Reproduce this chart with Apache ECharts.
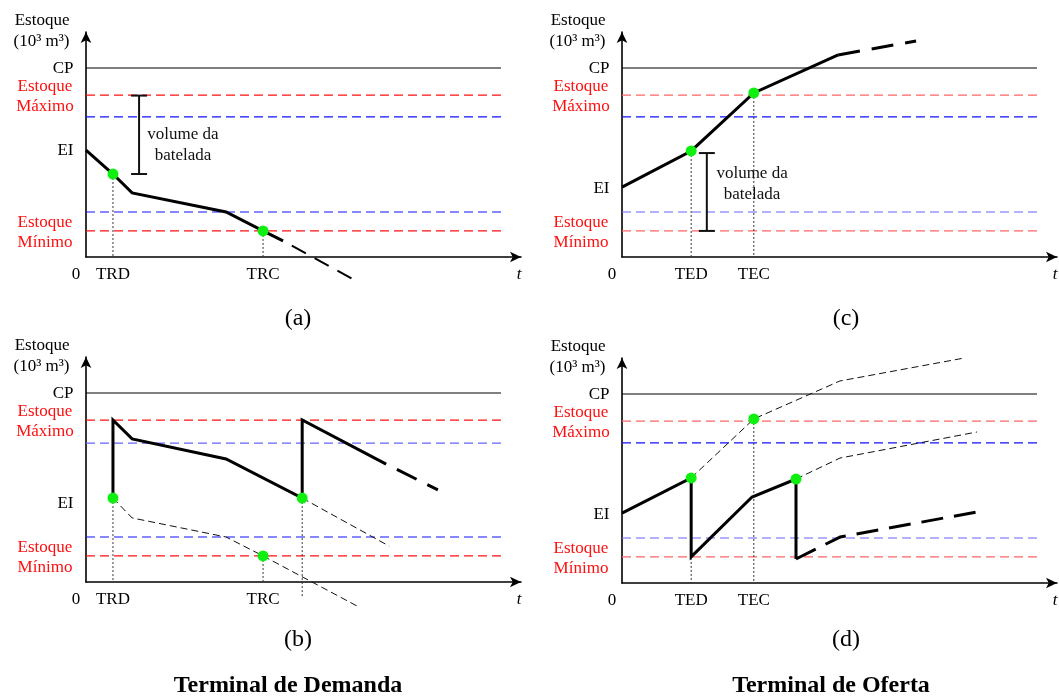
<!DOCTYPE html>
<html><head><meta charset="utf-8">
<script src="https://cdn.jsdelivr.net/npm/echarts@6/dist/echarts.min.js"></script>
<style>html,body{margin:0;padding:0;background:#fff}#c{width:1059px;height:697px}</style>
</head><body><div id="c"></div>
<script>
// ================= DATA =================
const X_MAX = 100;        // time axis extent (schematic units)
const Y_MAX = 119;        // stock axis extent (CP = 100)
const LEVEL_END = 95.4;   // reference lines stop here
// order: CP, Estoque Máximo, upper (blue) limit, lower (blue) limit, Estoque Mínimo
const levelsA = [100, 85.7, 74.1, 23.8, 13.8];
const levelsB = [100, 85.7, 73.5, 23.8, 13.8];
const levelsC = [100, 85.7, 74.1, 23.8, 13.8];
const levelsD = [100, 85.7, 74.1, 23.8, 13.8];
const eiLevels = [56.6, 42.3, 36.8, 37.0];   // a, b, c, d

// (a) Terminal de Demanda
const solidA = [[0,56.6],[6.2,43.9],[10.6,33.9],[32.2,23.8],[40.7,13.8],[45.3,8.5]];
const projA  = [[45.3,8.5],[62.1,-12.7]];
const dotsA  = [[6.2,43.9],[40.7,13.8]];
const dropsA = [[6.2,43.9,0],[40.7,13.8,0]];
const ticksA = [[6.2,'TRD'],[40.7,'TRC']];
const batchA = [[12.2,43.9,85.4]];
const batchTextA = [22.3, 59.5];

// (b) Terminal de Demanda
const solidB = [[6.2,44.4],[6.2,85.7],[10.6,75.7],[32.2,65.1],[49.7,44.4],[49.7,85.7],[69.0,62.4]];
const projB  = [[69.0,62.4],[80.9,48.7]];
const thinB1 = [[6.2,44.4],[10.6,33.9],[32.2,23.8],[40.7,13.8],[62.3,-12.7]];
const thinB2 = [[49.7,44.4],[69.7,19.0]];
const dotsB  = [[6.2,44.4],[49.7,44.4],[40.7,13.8]];
const dropsB = [[6.2,44.4,0],[40.7,13.8,0],[49.7,44.4,-8.5]];
const ticksB = [[6.2,'TRD'],[40.7,'TRC']];

// (c) Terminal de Oferta
const solidC = [[0,37.0],[15.9,56.1],[30.3,86.8],[49.7,106.9]];
const projC  = [[49.7,106.9],[67.6,114.3]];
const dotsC  = [[15.9,56.1],[30.3,86.8]];
const dropsC = [[15.9,56.1,0],[30.3,86.8,0]];
const ticksC = [[15.9,'TED'],[30.3,'TEC']];
const batchC = [[19.5,13.8,55.0]];
const batchTextC = [29.9, 38.4];

// (d) Terminal de Oferta
const solidD = [[0,37.0],[15.9,55.6],[15.9,13.8],[29.9,45.5],[40.0,55.0],[40.0,12.7]];
const projD  = [[40.0,12.7],[50.1,24.3],[81.6,37.6]];
const thinD1 = [[15.9,55.6],[30.3,86.8],[50.1,106.9],[78.6,119.0]];
const thinD2 = [[40.0,55.0],[50.1,66.1],[81.6,79.9]];
const dotsD  = [[15.9,55.6],[30.3,86.8],[40.0,55.0]];
const dropsD = [[15.9,55.6,0],[30.3,86.8,0]];
const ticksD = [[15.9,'TED'],[30.3,'TEC']];

const captions = ['(a)', '(b)', '(c)', '(d)'];
const groupTitles = ['Terminal de Demanda', 'Terminal de Oferta'];

// ================= STYLE / LAYOUT =================
const FONT = 'Liberation Serif';
const RED = '#ff1010', RED_L = '#ff6464', BLUE = '#1010ff', BLUE_L = '#6464ff';
const PX_Y = 1.89, GRID_W = 435, GRID_H = Y_MAX * PX_Y;
const grids = [
  {left: 86,  top: 257 - GRID_H},   // a
  {left: 86,  top: 582 - GRID_H},   // b
  {left: 622, top: 257 - GRID_H},   // c
  {left: 622, top: 583 - GRID_H}    // d
];
const levelColors = [
  ['#000', RED, BLUE, BLUE, RED],
  ['#000', RED, BLUE_L, BLUE, RED],
  ['#000', RED_L, BLUE, BLUE_L, RED_L],
  ['#000', RED_L, BLUE, BLUE_L, RED_L]
];

const panels = [
  {levels: levelsA, ei: eiLevels[0], solid: solidA, proj: projA, projStyle: {width: 2, type: [16, 10], dashOffset: 16}, thin: [], dots: dotsA, drops: dropsA, ticks: ticksA, batch: batchA, batchText: batchTextA},
  {levels: levelsB, ei: eiLevels[1], solid: solidB, proj: projB, projStyle: {width: 3, type: [22, 12], dashOffset: 22}, thin: [thinB1, thinB2], dots: dotsB, drops: dropsB, ticks: ticksB, batch: null, batchText: null},
  {levels: levelsC, ei: eiLevels[2], solid: solidC, proj: projC, projStyle: {width: 3, type: [22, 12], dashOffset: 0}, thin: [], dots: dotsC, drops: dropsC, ticks: ticksC, batch: batchC, batchText: batchTextC},
  {levels: levelsD, ei: eiLevels[3], solid: solidD, proj: projD, projStyle: {width: 3, type: [22, 11], dashOffset: 0}, thin: [thinD1, thinD2], dots: dotsD, drops: dropsD, ticks: ticksD, batch: null, batchText: null}
];

function lineS(gi, data, style, z) {
  return {type: 'line', xAxisIndex: gi, yAxisIndex: gi, data: data, symbol: 'none', silent: true,
    clip: false, animation: false, lineStyle: style, z: z || 2};
}

const series = [];
const xAxes = [], yAxes = [], gridOpts = [];
panels.forEach((p, gi) => {
  gridOpts.push({left: grids[gi].left, top: grids[gi].top, width: GRID_W, height: GRID_H});
  xAxes.push({type: 'value', gridIndex: gi, min: 0, max: X_MAX,
    axisLine: {show: true, onZero: false, symbol: ['none', 'arrow'], symbolSize: [8, 11], lineStyle: {color: '#000', width: 1.6}},
    axisTick: {show: false}, axisLabel: {show: false}, splitLine: {show: false}});
  yAxes.push({type: 'value', gridIndex: gi, min: 0, max: Y_MAX,
    axisLine: {show: true, onZero: false, symbol: ['none', 'arrow'], symbolSize: [8, 11], lineStyle: {color: '#000', width: 1.6}},
    axisTick: {show: false}, axisLabel: {show: false}, splitLine: {show: false}});

  // reference levels
  p.levels.forEach((lv, k) => {
    const st = k === 0 ? {color: '#000', width: 1, type: 'solid'} : {color: levelColors[gi][k], width: 1.2, type: [9, 5]};
    series.push(lineS(gi, [[0, lv], [LEVEL_END, lv]], st, 1));
  });
  // drop lines
  p.drops.forEach(d => series.push(lineS(gi, [[d[0], d[1]], [d[0], d[2]]], {color: '#333', width: 1, type: [2, 2]}, 2)));
  // thin projections
  p.thin.forEach(t => series.push(lineS(gi, t, {color: '#111', width: 1, type: [7, 4]}, 3)));
  // main stock curve
  series.push(lineS(gi, p.solid, {color: '#000', width: 3, type: 'solid', join: 'miter'}, 4));
  series.push(lineS(gi, p.proj, Object.assign({color: '#000'}, p.projStyle), 4));
  // batch bracket
  if (p.batch) {
    series.push({type: 'custom', xAxisIndex: gi, yAxisIndex: gi, data: p.batch, silent: true, animation: false, z: 4,
      renderItem: function (params, api) {
        const a = api.coord([api.value(0), api.value(1)]);
        const b = api.coord([api.value(0), api.value(2)]);
        const st = {stroke: '#111', lineWidth: 2};
        return {type: 'group', children: [
          {type: 'line', shape: {x1: a[0], y1: a[1], x2: b[0], y2: b[1]}, style: st},
          {type: 'line', shape: {x1: a[0] - 8, y1: a[1], x2: a[0] + 8, y2: a[1]}, style: st},
          {type: 'line', shape: {x1: b[0] - 8, y1: b[1], x2: b[0] + 8, y2: b[1]}, style: st}
        ]};
      }});
  }
  // event dots
  series.push({type: 'scatter', xAxisIndex: gi, yAxisIndex: gi, data: p.dots, symbolSize: 11, silent: true,
    animation: false, itemStyle: {color: '#10f010', opacity: 1}, z: 6});

  // text labels anchored to the axes
  const items = [
    {value: [0, Y_MAX], label: {formatter: 'Estoque\n(10³ m³)', position: 'left', distance: 16, lineHeight: 21, offset: [0, -1]}},
    {value: [0, p.levels[0]], label: {formatter: 'CP', position: 'left', distance: 12, offset: [0, 1]}},
    {value: [0, p.levels[1]], label: {formatter: 'Estoque\nMáximo', position: 'inside', offset: [-41, 2], color: RED, lineHeight: 20}},
    {value: [0, p.ei], label: {formatter: 'EI', position: 'left', distance: 12, offset: [0, 1]}},
    {value: [0, p.levels[4]], label: {formatter: 'Estoque\nMínimo', position: 'inside', offset: [-41, 2], color: RED, lineHeight: 20}},
    {value: [0, 0], label: {formatter: '0', position: 'bottom', distance: 9, offset: [-10, 0]}},
    {value: [X_MAX, 0], label: {formatter: 't', position: 'bottom', distance: 9, offset: [-2, 0], fontStyle: 'italic'}}
  ];
  p.ticks.forEach(t => items.push({value: [t[0], 0], label: {formatter: t[1], position: 'bottom', distance: 9}}));
  if (p.batchText) items.push({value: p.batchText, label: {formatter: 'volume da\nbatelada', position: 'inside', lineHeight: 21, color: '#111'}});
  series.push({type: 'scatter', xAxisIndex: gi, yAxisIndex: gi, data: items, symbolSize: 1, silent: true, animation: false,
    itemStyle: {color: 'rgba(0,0,0,0)', opacity: 1}, z: 7,
    label: {show: true, color: '#000', fontFamily: FONT, fontSize: 17}});
});

const capPos = [[298, 319], [298, 640], [846, 319], [846, 640]];
const titlePos = [[288, 686], [831, 686]];
const graphic = [];
captions.forEach((c, i) => graphic.push({type: 'text', x: capPos[i][0], y: capPos[i][1], silent: true,
  style: {text: c, align: 'center', verticalAlign: 'middle', fontFamily: FONT, fontSize: 24, fill: '#000'}}));
groupTitles.forEach((t, i) => graphic.push({type: 'text', x: titlePos[i][0], y: titlePos[i][1], silent: true,
  style: {text: t, align: 'center', verticalAlign: 'middle', fontFamily: FONT, fontSize: 24, fontWeight: 'bold', fill: '#000'}}));

const chart = echarts.init(document.getElementById('c'), null, {renderer: 'canvas'});
chart.setOption({
  backgroundColor: '#fff',
  animation: false,
  grid: gridOpts, xAxis: xAxes, yAxis: yAxes,
  series: series, graphic: graphic
});
</script></body></html>
